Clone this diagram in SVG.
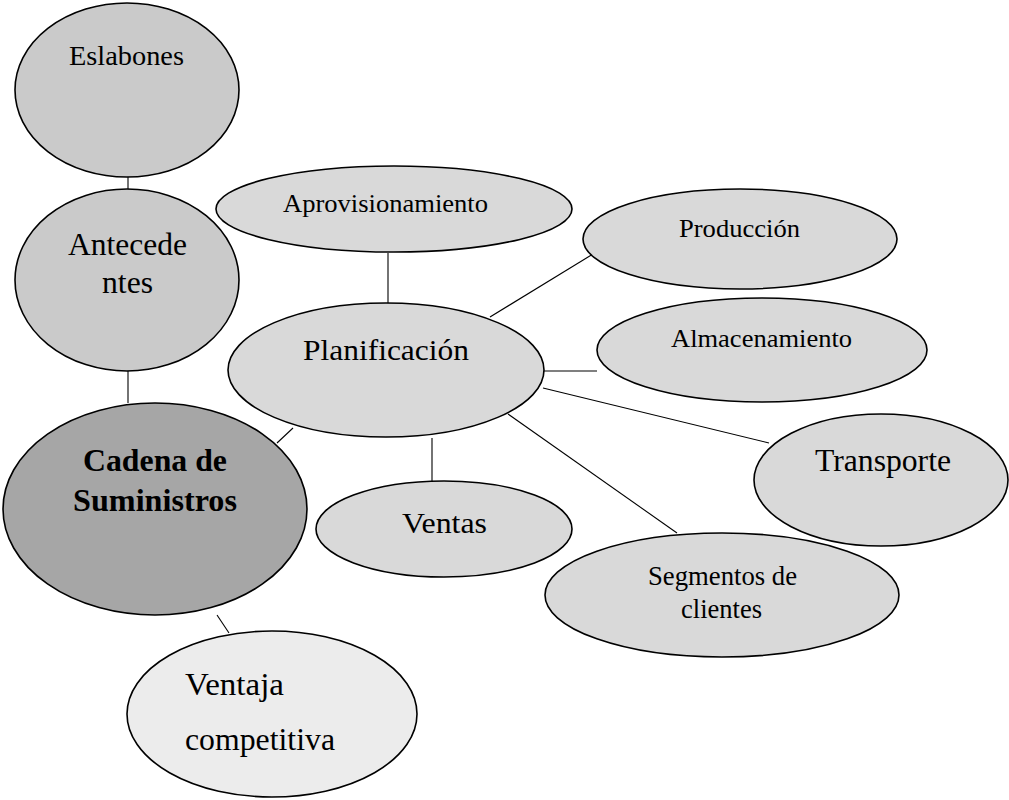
<svg xmlns="http://www.w3.org/2000/svg" width="1009" height="800" viewBox="0 0 1009 800">
<style>
.n{stroke:#000;stroke-width:1.6}
.g1{fill:#cacaca}
.g2{fill:#d9d9d9}
.g3{fill:#a6a6a6}
.g4{fill:#ececec}
.c line{stroke:#000;stroke-width:1.1}
text{fill:#000;font-family:"Liberation Serif","Times New Roman",serif}
</style>
<rect width="1009" height="800" fill="#fff"/>
<g class="c" id="connectors">
<line x1="128" y1="177" x2="128" y2="190"/>
<line x1="128" y1="371" x2="128" y2="403"/>
<line x1="388" y1="253" x2="388" y2="303"/>
<line x1="490" y1="317" x2="593" y2="254"/>
<line x1="543" y1="371" x2="597" y2="371"/>
<line x1="543" y1="388" x2="769" y2="443"/>
<line x1="508" y1="414" x2="677" y2="533"/>
<line x1="432" y1="438" x2="432" y2="481"/>
<line x1="293" y1="428" x2="277" y2="443"/>
<line x1="217" y1="615" x2="229" y2="633"/>
</g>
<g id="eslabones">
<ellipse class="n g1" cx="127" cy="90" rx="112" ry="87"/>
<text x="69" y="65" font-size="28" textLength="115" lengthAdjust="spacingAndGlyphs">Eslabones</text>
</g>
<g id="antecedentes">
<ellipse class="n g1" cx="127" cy="280" rx="112" ry="91"/>
<text x="68" y="255" font-size="31" textLength="119" lengthAdjust="spacingAndGlyphs">Antecede</text>
<text x="102" y="293" font-size="31" textLength="51" lengthAdjust="spacingAndGlyphs">ntes</text>
</g>
<g id="cadena">
<ellipse class="n g3" cx="155" cy="509" rx="152" ry="106"/>
<text x="83" y="471" font-size="31" font-weight="bold" textLength="144" lengthAdjust="spacingAndGlyphs">Cadena de</text>
<text x="73" y="511" font-size="31" font-weight="bold" textLength="164" lengthAdjust="spacingAndGlyphs">Suministros</text>
</g>
<g id="ventaja">
<ellipse class="n g4" cx="272" cy="714" rx="145" ry="83"/>
<text x="185" y="695" font-size="31" textLength="99" lengthAdjust="spacingAndGlyphs">Ventaja</text>
<text x="185" y="750" font-size="31" textLength="150" lengthAdjust="spacingAndGlyphs">competitiva</text>
</g>
<g id="aprovisionamiento">
<ellipse class="n g2" cx="394" cy="209" rx="178" ry="43"/>
<text x="283" y="212" font-size="26" textLength="205" lengthAdjust="spacingAndGlyphs">Aprovisionamiento</text>
</g>
<g id="planificacion">
<ellipse class="n g2" cx="386" cy="370" rx="158" ry="67"/>
<text x="303" y="360" font-size="30" textLength="166" lengthAdjust="spacingAndGlyphs">Planificación</text>
</g>
<g id="produccion">
<ellipse class="n g2" cx="740" cy="239" rx="157" ry="50"/>
<text x="679" y="237" font-size="26" textLength="121" lengthAdjust="spacingAndGlyphs">Producción</text>
</g>
<g id="almacenamiento">
<ellipse class="n g2" cx="762" cy="350" rx="165" ry="52"/>
<text x="671" y="347" font-size="25" textLength="181" lengthAdjust="spacingAndGlyphs">Almacenamiento</text>
</g>
<g id="transporte">
<ellipse class="n g2" cx="881" cy="480" rx="127" ry="66"/>
<text x="815" y="471" font-size="31" textLength="136" lengthAdjust="spacingAndGlyphs">Transporte</text>
</g>
<g id="ventas">
<ellipse class="n g2" cx="444" cy="529" rx="128" ry="48"/>
<text x="402" y="533" font-size="30" textLength="85" lengthAdjust="spacingAndGlyphs">Ventas</text>
</g>
<g id="segmentos">
<ellipse class="n g2" cx="722" cy="595" rx="177" ry="62"/>
<text x="648" y="585" font-size="26.5" textLength="149" lengthAdjust="spacingAndGlyphs">Segmentos de</text>
<text x="681" y="618" font-size="26.5" textLength="81" lengthAdjust="spacingAndGlyphs">clientes</text>
</g>
</svg>
